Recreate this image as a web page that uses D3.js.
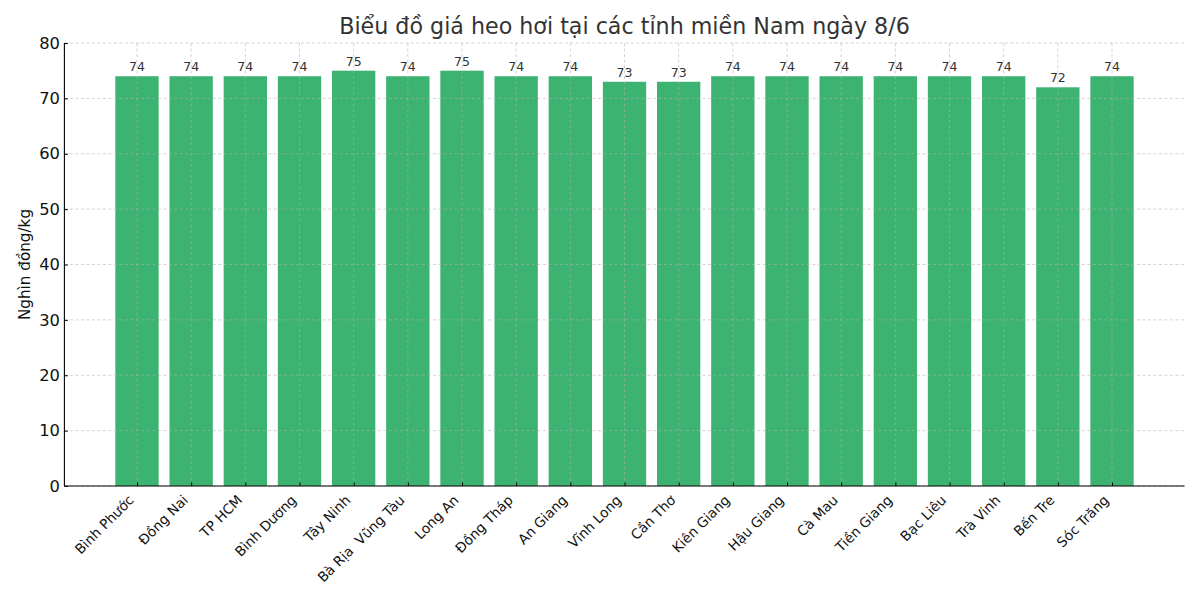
<!DOCTYPE html>
<html><head><meta charset="utf-8">
<script src="https://cdn.jsdelivr.net/npm/d3@7/dist/d3.min.js"></script>
<style>body{margin:0;background:#fff}svg{font-family:"DejaVu Sans",sans-serif}</style>
</head><body><svg id="c" width="1200" height="600"></svg>
<script>
const provinces = ["Bình Phước","Đồng Nai","TP HCM","Bình Dương","Tây Ninh","Bà Rịa  Vũng Tàu","Long An","Đồng Tháp","An Giang","Vĩnh Long","Cần Thơ","Kiên Giang","Hậu Giang","Cà Mau","Tiền Giang","Bạc Liêu","Trà Vinh","Bến Tre","Sóc Trăng"];
const prices = [74,74,74,74,75,74,75,74,74,73,73,74,74,74,74,74,74,72,74];
const yTicks = [0,10,20,30,40,50,60,70,80];
const titleText = "Biểu đồ giá heo hơi tại các tỉnh miền Nam ngày 8/6";
const yLabel = "Nghìn đồng/kg";

const svg = d3.select("#c");
const L = 64.4, R = 1184.6, T = 43, B = 486;
const n = provinces.length;
const x = d3.scaleLinear().domain([-0.4 - 0.94, n - 1 + 0.4 + 0.94]).range([L, R]);
const y = d3.scaleLinear().domain([0, 80]).range([B, T]);
const bw = x(0.8) - x(0);

// bars
svg.append("g").selectAll("rect").data(prices).join("rect")
  .attr("x", (d,i) => x(i - 0.4)).attr("width", bw)
  .attr("y", d => y(d)).attr("height", d => y(0) - y(d))
  .attr("fill", "#3cb371");

// grid (above bars)
const grid = svg.append("g").attr("stroke", "#b0b0b0").attr("stroke-opacity", 0.7)
  .attr("stroke-width", 0.8).attr("stroke-dasharray", "3,2.5");
grid.selectAll("line.h").data(yTicks).join("line").attr("class","h")
  .attr("x1", L).attr("x2", R).attr("y1", d => y(d)).attr("y2", d => y(d));
grid.selectAll("line.v").data(provinces).join("line").attr("class","v")
  .attr("x1", (d,i) => x(i)).attr("x2", (d,i) => x(i)).attr("y1", T).attr("y2", B);

// value labels
svg.append("g").selectAll("text").data(prices).join("text")
  .attr("x", (d,i) => x(i)).attr("y", d => y(d) - 5)
  .attr("text-anchor", "middle").attr("font-size", 12.5).attr("fill", "#333")
  .text(d => d);

// y axis (ticks inward)
const ya = svg.append("g").attr("transform", `translate(${L},0)`)
  .call(d3.axisLeft(y).tickValues(yTicks).tickSize(-3.5).tickPadding(4.5));
ya.select(".domain").attr("stroke", "#000").attr("stroke-width", 1.1).attr("d", `M0,${B}V${T}`);
ya.selectAll(".tick line").attr("stroke", "#000").attr("stroke-width", 1);
ya.selectAll(".tick text").attr("x", -4.5).attr("font-size", 16.3).attr("fill", "#111").attr("font-family", "DejaVu Sans");

// x axis (ticks inward)
const xa = svg.append("g").attr("transform", `translate(0,${B})`)
  .call(d3.axisBottom(x).tickValues(d3.range(n)).tickSize(-3.5).tickFormat(""));
xa.select(".domain").attr("stroke", "#000").attr("stroke-width", 1.1).attr("d", `M${L},0H${R}`);
xa.selectAll(".tick line").attr("stroke", "#000").attr("stroke-width", 1);

svg.append("g").selectAll("text").data(provinces).join("text")
  .attr("transform", (d,i) => `translate(${x(i) - 2.3},${B + 15}) rotate(-45)`)
  .attr("text-anchor", "end").attr("font-size", 13.7).attr("fill", "#111")
  .style("white-space", "pre")
  .text(d => d);

// y label
svg.append("text").attr("transform", `translate(30,${(T + B) / 2}) rotate(-90)`)
  .attr("text-anchor", "middle").attr("font-size", 15.2).attr("fill", "#111").text(yLabel);

// title
svg.append("text").attr("x", (L + R) / 2).attr("y", 34)
  .attr("text-anchor", "middle").attr("font-size", 22.2).attr("fill", "#333").text(titleText);
</script></body></html>
